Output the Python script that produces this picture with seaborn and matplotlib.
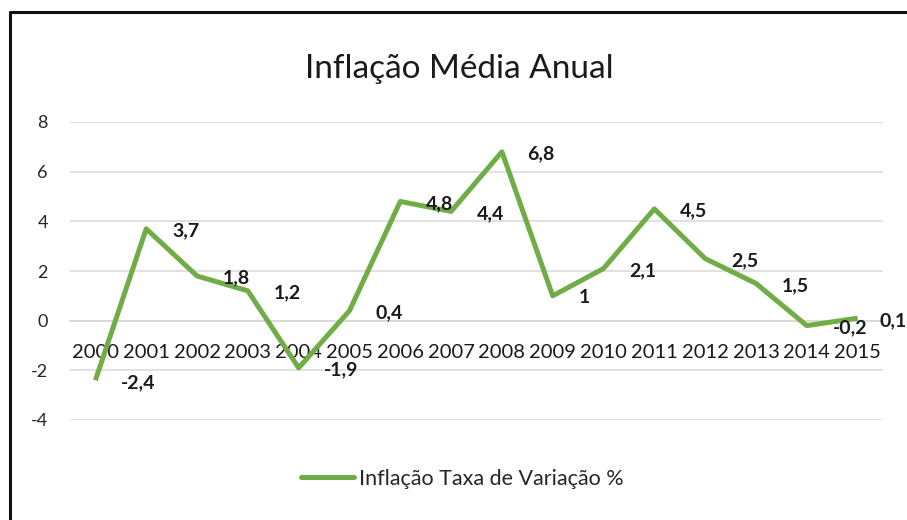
import matplotlib
matplotlib.use("Agg")
import matplotlib.pyplot as plt
import seaborn as sns
import pandas as pd
from matplotlib.lines import Line2D

# Dados do gráfico
anos = [2000, 2001, 2002, 2003, 2004, 2005, 2006, 2007,
        2008, 2009, 2010, 2011, 2012, 2013, 2014, 2015]
inflacao = [-2.4, 3.7, 1.8, 1.2, -1.9, 0.4, 4.8, 4.4,
            6.8, 1.0, 2.1, 4.5, 2.5, 1.5, -0.2, 0.1]
y_ticks = [-4, -2, 0, 2, 4, 6, 8]
serie = "Inflação Taxa de Variação %"
titulo = "Inflação Média Anual"

VERDE = "#70AD47"
CINZA = "#D9D9D9"

sns.set_style("white")
plt.rcParams["font.family"] = ["Lato", "DejaVu Sans"]

df = pd.DataFrame({"Ano": anos, "Inflacao": inflacao})

fig = plt.figure(figsize=(9.07, 5.2), dpi=100)
ax = fig.add_axes([70 / 907, 100 / 520, 813 / 907, 298 / 520])

sns.lineplot(data=df, x="Ano", y="Inflacao", ax=ax, color=VERDE,
             linewidth=3.6, label=serie, zorder=3, legend=False)
ax.lines[0].set_solid_capstyle("butt")

# eixo horizontal no zero (estilo Excel) - antes dos rótulos, pois reinicia os ticks
ax.spines["bottom"].set_position(("data", 0))
for s in ["top", "right", "left"]:
    ax.spines[s].set_visible(False)
ax.spines["bottom"].set_color(CINZA)
ax.spines["bottom"].set_linewidth(1.1)

ax.set_xlim(anos[0] - 0.5, anos[-1] + 0.5)
ax.set_ylim(y_ticks[0], y_ticks[-1])
ax.set_yticks(y_ticks)
ax.set_yticklabels([str(v) for v in y_ticks], fontsize=13, color="#262626")
ax.set_xticks(anos)
ax.set_xticklabels([str(a) for a in anos], fontsize=14.5, color="#1a1a1a")
ax.set_xlabel("")
ax.set_ylabel("")

ax.set_axisbelow(True)
ax.grid(axis="y", color=CINZA, linewidth=1.1)
ax.tick_params(axis="x", length=0, pad=17)
ax.tick_params(axis="y", length=0, pad=16)

# rótulos de dados à direita dos pontos (o último mais junto, para caber)
for i, (a, v) in enumerate(zip(anos, inflacao)):
    dx = 15.5 if i == len(anos) - 1 else 18.5
    ax.annotate(f"{v:g}".replace(".", ","), xy=(a, v), xytext=(dx, -1.5),
                textcoords="offset points", ha="left", va="center",
                fontsize=14, fontweight="bold", color="#1a1a1a",
                annotation_clip=False, zorder=4)

fig.text(459 / 907, 451 / 520, titulo, ha="center", va="center",
         fontsize=24, color="#1a1a1a")

handle = Line2D([], [], color=VERDE, linewidth=3.6, solid_capstyle="round")
fig.legend([handle], [serie], loc="center", bbox_to_anchor=(462 / 907, 41 / 520),
           frameon=False, fontsize=15.5, handlelength=2.5, handletextpad=0.2)

# moldura parcial (como no recorte original)
fig.add_artist(Line2D([10 / 907, 10 / 907], [0, 508 / 520], color="#111111",
                      linewidth=2.2, transform=fig.transFigure))
fig.add_artist(Line2D([10 / 907, 1], [508 / 520, 508 / 520], color="#111111",
                      linewidth=2.2, transform=fig.transFigure))

fig.savefig("out.png", dpi=100)
